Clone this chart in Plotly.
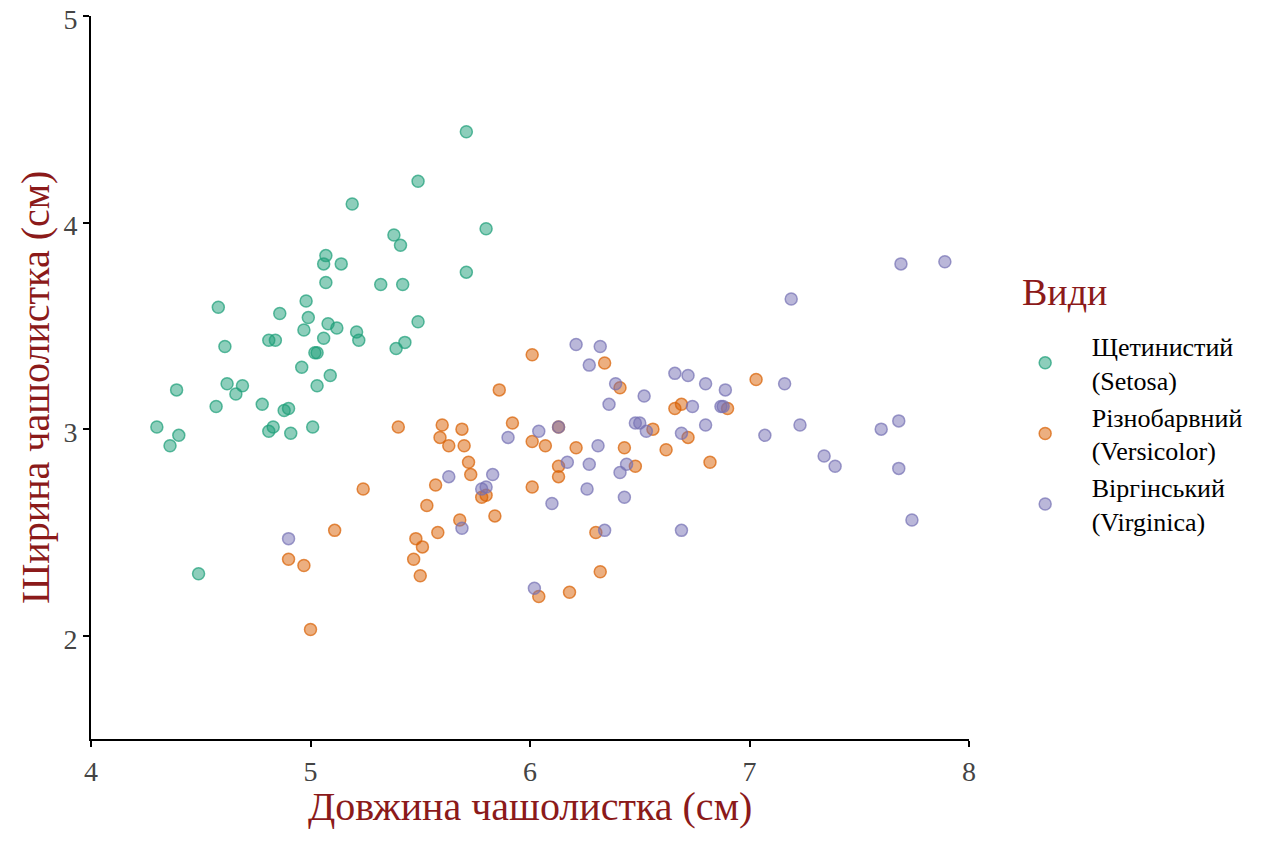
import plotly.graph_objects as go

# Sepal length / width (cm)
setosa_x = [5.71, 5.49, 5.19, 5.80, 5.38, 5.41, 5.07, 5.06, 5.14, 5.71,
            5.07, 5.32, 5.42, 4.58, 4.98, 4.86, 4.99, 5.08, 5.12, 4.97,
            5.49, 5.21, 5.22, 5.06, 4.81, 4.84, 4.61, 5.02, 5.03, 5.39,
            5.43, 4.96, 5.09, 5.03, 4.39, 4.62, 4.69, 4.66, 4.57, 4.78,
            4.88, 4.90, 4.30, 4.40, 4.36, 4.83, 4.81, 4.91, 5.01, 4.49]
setosa_y = [4.44, 4.20, 4.09, 3.97, 3.94, 3.89, 3.84, 3.80, 3.80, 3.76,
            3.71, 3.70, 3.70, 3.59, 3.62, 3.56, 3.54, 3.51, 3.49, 3.48,
            3.52, 3.47, 3.43, 3.44, 3.43, 3.43, 3.40, 3.37, 3.37, 3.39,
            3.42, 3.30, 3.26, 3.21, 3.19, 3.22, 3.21, 3.17, 3.11, 3.12,
            3.09, 3.10, 3.01, 2.97, 2.92, 3.01, 2.99, 2.98, 3.01, 2.30]

versicolor_x = [6.01, 6.34, 5.86, 6.41, 5.60, 5.69, 5.59, 5.63, 5.70, 5.92,
                6.01, 6.07, 6.13, 6.21, 6.43, 5.72, 5.73, 5.57, 6.13, 6.13,
                6.01, 6.48, 5.78, 5.80, 5.68, 5.84, 5.58, 6.30, 6.32, 6.04,
                6.18, 5.40, 5.24, 5.53, 5.11, 5.48, 5.51, 4.90, 4.97, 5.47,
                5.50, 5.00, 7.03, 6.66, 6.69, 6.90, 6.56, 6.72, 6.62, 6.82]
versicolor_y = [3.36, 3.32, 3.19, 3.20, 3.02, 3.00, 2.96, 2.92, 2.92, 3.03,
                2.94, 2.92, 3.01, 2.91, 2.91, 2.84, 2.78, 2.73, 2.82, 2.77,
                2.72, 2.82, 2.67, 2.68, 2.56, 2.58, 2.50, 2.50, 2.31, 2.19,
                2.21, 3.01, 2.71, 2.63, 2.51, 2.47, 2.43, 2.37, 2.34, 2.37,
                2.29, 2.03, 3.24, 3.10, 3.12, 3.10, 3.00, 2.96, 2.90, 2.84]

virginica_x = [6.21, 6.32, 6.27, 6.39, 6.36, 6.52, 6.48, 6.50, 5.90, 6.04,
               6.13, 6.31, 6.17, 6.27, 6.41, 6.44, 5.63, 5.83, 5.80, 5.78,
               6.26, 6.10, 6.43, 5.69, 6.34, 6.02, 4.90, 6.66, 6.72, 6.80,
               6.89, 7.16, 6.74, 6.88, 6.87, 6.53, 6.69, 6.80, 7.07, 6.69,
               7.69, 7.89, 7.19, 7.23, 7.34, 7.39, 7.60, 7.68, 7.68, 7.74]
virginica_y = [3.41, 3.40, 3.31, 3.22, 3.12, 3.16, 3.03, 3.03, 2.96, 2.99,
               3.01, 2.92, 2.84, 2.83, 2.79, 2.83, 2.77, 2.78, 2.72, 2.71,
               2.71, 2.64, 2.67, 2.52, 2.51, 2.23, 2.47, 3.27, 3.26, 3.22,
               3.19, 3.22, 3.11, 3.11, 3.11, 2.99, 2.98, 3.02, 2.97, 2.51,
               3.80, 3.81, 3.63, 3.02, 2.87, 2.82, 3.00, 3.04, 2.81, 2.56]

species_names = ["Щетинистий<br>(Setosa)", "Різнобарвний<br>(Versicolor)",
                 "Віргінський<br>(Virginica)"]
species_rgb = [(27, 158, 119), (217, 95, 2), (117, 112, 179)]
x_ticks = [4, 5, 6, 7, 8]
y_ticks = [2, 3, 4, 5]
x_title = "Довжина чашолистка (см)"
y_title = "Ширина чашолистка (см)"
legend_title = "Види"

FONT = "Liberation Serif, Times New Roman, serif"
RED = "#8B1A1A"
PAD = "&nbsp;&nbsp;&nbsp;"

fig = go.Figure()
for name, xs, ys, rgb in zip(species_names,
                             [setosa_x, versicolor_x, virginica_x],
                             [setosa_y, versicolor_y, virginica_y],
                             species_rgb):
    r, g, b = rgb
    label = PAD + name.replace("<br>", "<br>" + PAD)
    fig.add_trace(go.Scatter(
        x=xs, y=ys, mode="markers", name=label,
        marker=dict(size=12, color=f"rgba({r},{g},{b},0.5)",
                    line=dict(color=f"rgba({r},{g},{b},0.7)", width=1.5)),
    ))

axis_common = dict(
    showgrid=False, zeroline=False, showline=True, linecolor="black",
    linewidth=2, ticks="outside", ticklen=6, tickwidth=1.5, tickcolor="black",
    tickfont=dict(family=FONT, size=28, color="#444444"),
    automargin=False, ticklabeloverflow="allow",
)

fig.update_layout(
    width=1264, height=843,
    paper_bgcolor="white", plot_bgcolor="white",
    margin=dict(l=83, r=303, t=8, b=112),
    font=dict(family=FONT),
    xaxis=dict(range=[4, 8], tickvals=x_ticks, **axis_common),
    yaxis=dict(range=[1.5, 5], tickvals=y_ticks, ticklabelshift=3,
               **axis_common),
    legend=dict(
        x=1.056, xanchor="left", y=0.576, yanchor="top",
        font=dict(family=FONT, size=26, color="black"),
        itemwidth=44, bgcolor="rgba(0,0,0,0)",
    ),
    annotations=[
        dict(text=x_title, xref="paper", yref="paper", x=0.5, y=-0.093,
             xanchor="center", yanchor="middle", showarrow=False,
             font=dict(family=FONT, size=40, color=RED)),
        dict(text=y_title, xref="paper", yref="paper", x=-0.0626, y=0.4855,
             xanchor="center", yanchor="middle", showarrow=False,
             textangle=-90, font=dict(family=FONT, size=40, color=RED)),
        dict(text=legend_title, xref="paper", yref="paper", x=1.058, y=0.618,
             xanchor="left", yanchor="middle", showarrow=False,
             font=dict(family=FONT, size=38, color=RED)),
    ],
)

fig.write_html("out.html")
